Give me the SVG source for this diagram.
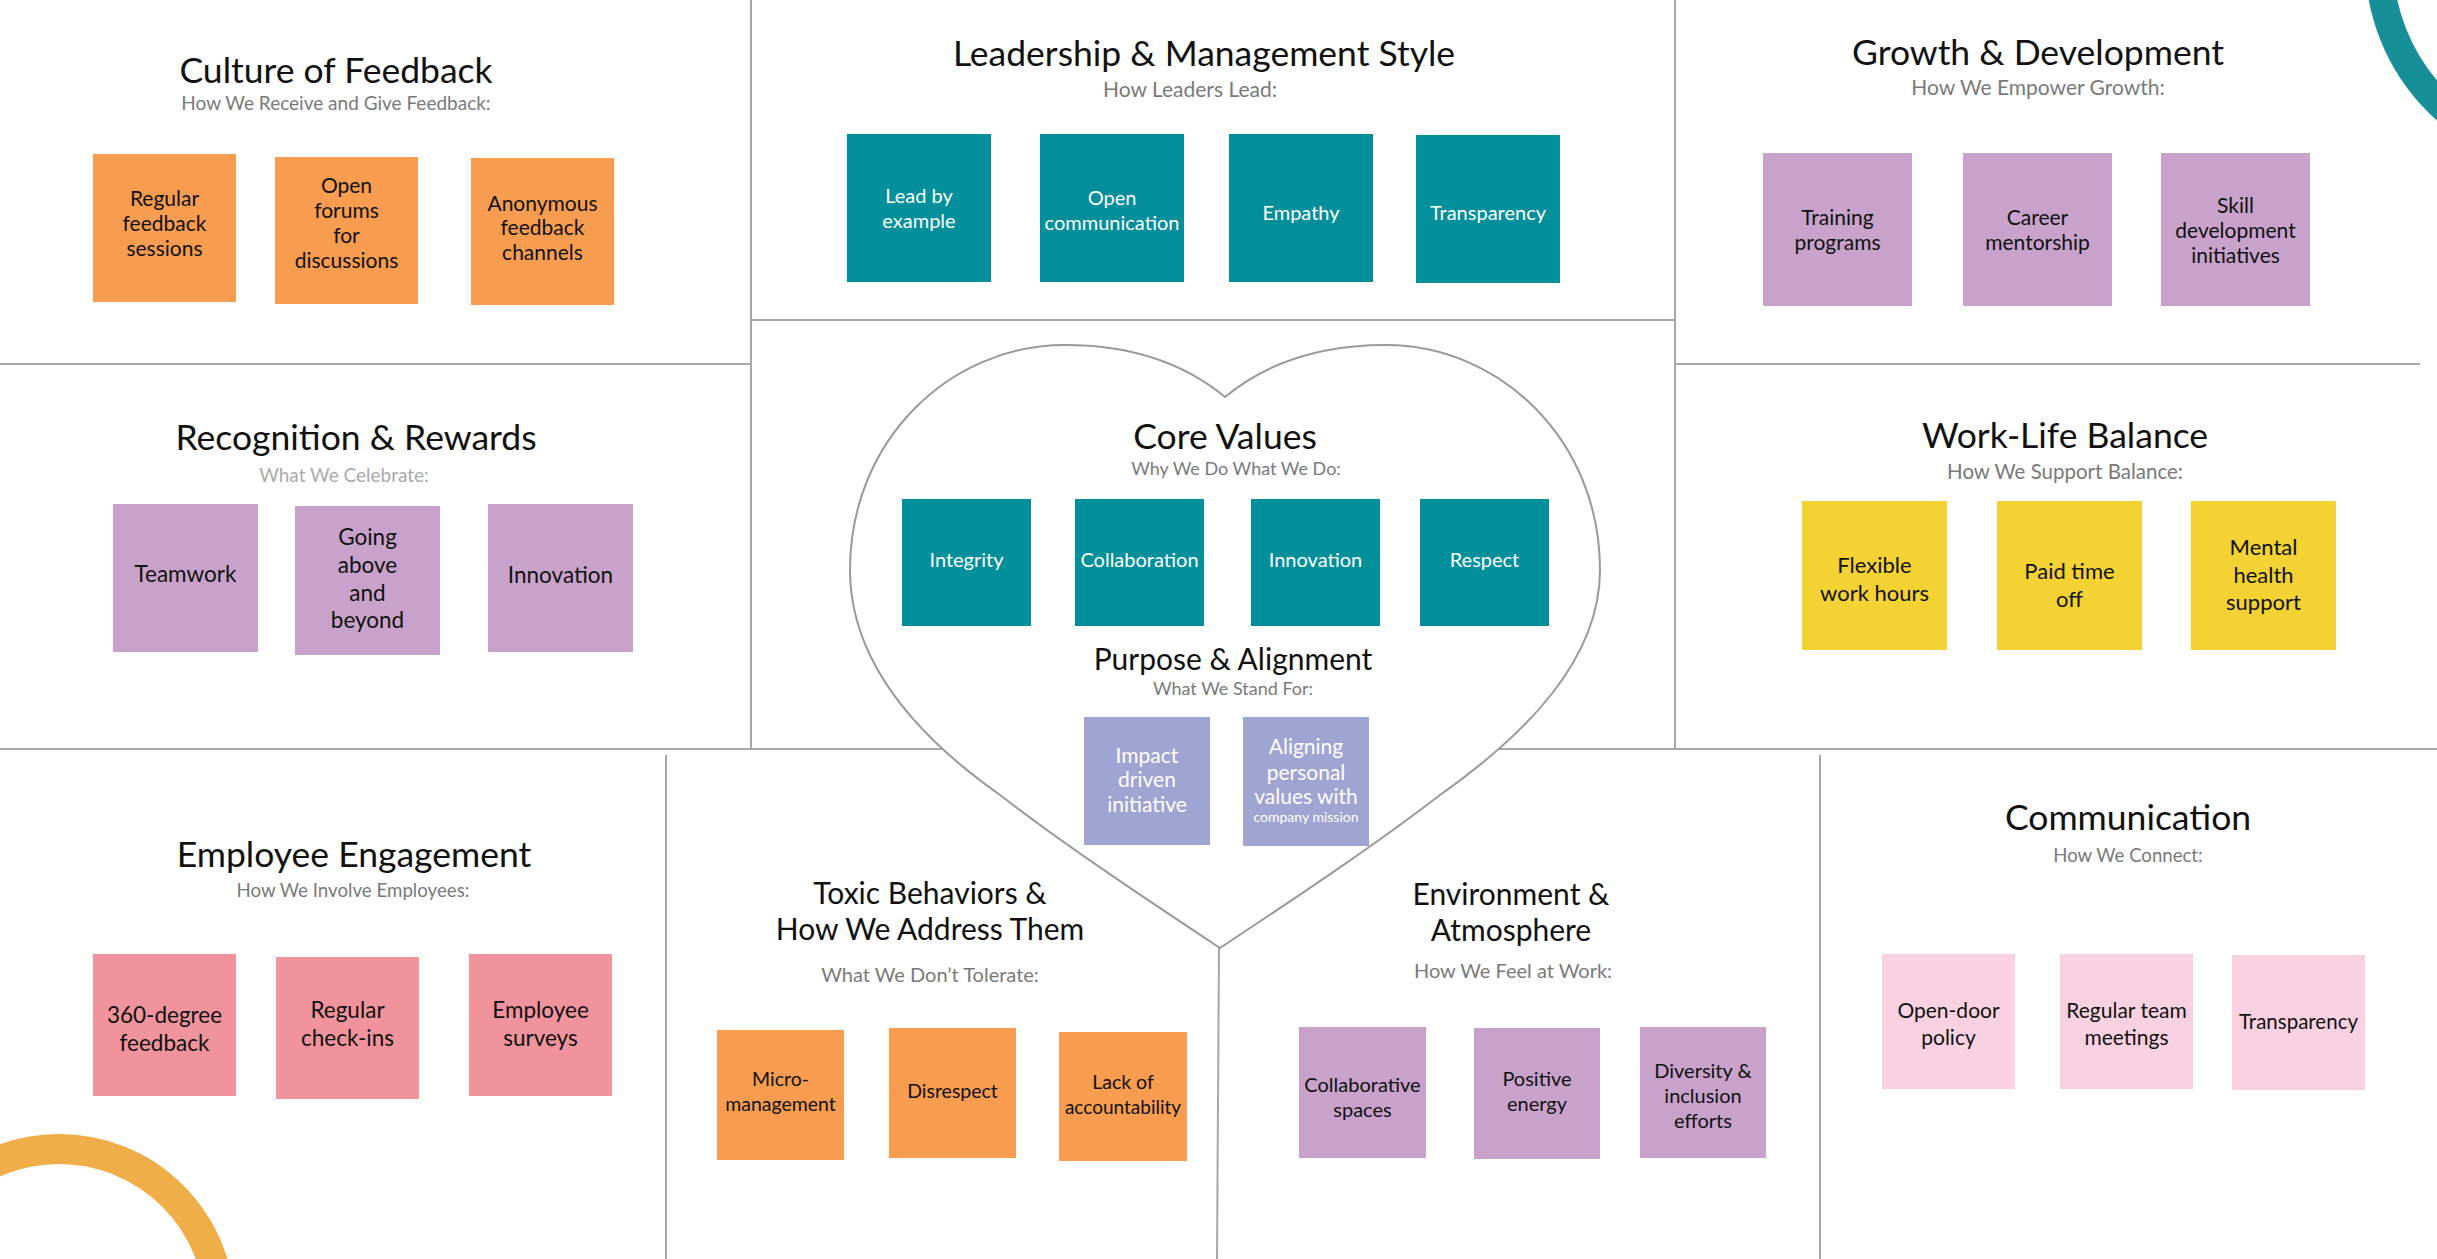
<svg xmlns="http://www.w3.org/2000/svg" width="2437" height="1259" viewBox="0 0 2437 1259">
<style>
  text { font-family: Lato, "Open Sans", "Liberation Sans", sans-serif; text-anchor: middle; }
  .t1 { font-size: 35.5px; fill: #111; }
  .t2 { font-size: 30px; fill: #111; }
  .sub { font-size: 18px; fill: #7a7a7a; }
  .subl { font-size: 19px; fill: #ababab; }
  .bt { font-size: 21px; fill: #111; }
  .bw { font-size: 20px; fill: #fff; }
  .bs { font-size: 14px; fill: #fff; }
  .orange { fill: #F89C4F; }
  .teal { fill: #008F9B; }
  .purple { fill: #C8A2CB; }
  .yellow { fill: #F4D233; }
  .pink { fill: #F0939C; }
  .lpink { fill: #FAD1E1; }
  .lav { fill: #A0A4D3; }
  .ln { stroke: #a8a8a8; stroke-width: 2; fill: none; }
</style>
<rect width="2437" height="1259" fill="#fff"/>

<g id="decor">
  <circle cx="2580" cy="-40" r="201" fill="none" stroke="#178F99" stroke-width="28"/>
  <circle cx="59" cy="1310" r="161" fill="none" stroke="#EFAE48" stroke-width="30"/>
</g>

<g id="connectors">
  <line class="ln" x1="751" y1="0" x2="751" y2="749"/>
  <line class="ln" x1="1675" y1="0" x2="1675" y2="749"/>
  <line class="ln" x1="0" y1="364" x2="751" y2="364"/>
  <line class="ln" x1="751" y1="320" x2="1675" y2="320"/>
  <line class="ln" x1="1675" y1="364" x2="2420" y2="364"/>
  <line class="ln" x1="0" y1="749" x2="2437" y2="749"/>
  <line class="ln" x1="666" y1="755" x2="666" y2="1259"/>
  <line class="ln" x1="1219" y1="948" x2="1217" y2="1259"/>
  <line class="ln" x1="1820" y1="755" x2="1820" y2="1259"/>
  <path id="heart" d="M1225,397 C1190,368 1140,345 1065,345 C950,345 850,440 850,570 C850,660 915,735 1000,795 C1065,845 1140,895 1220,948 C1300,895 1375,845 1440,795 C1525,735 1600,660 1600,570 C1600,440 1500,345 1386,345 C1310,345 1260,368 1225,397 Z" fill="#fff" stroke="#9a9a9a" stroke-width="2"/>
</g>

<g id="culture-of-feedback">
  <text class="t1" x="336" y="83">Culture of Feedback</text>
  <text class="sub" style="font-size:19px" x="336" y="110">How We Receive and Give Feedback:</text>
  <rect class="orange" x="93" y="154" width="143" height="148"/>
  <rect class="orange" x="275" y="157" width="143" height="147"/>
  <rect class="orange" x="471" y="158" width="143" height="147"/>
  <text class="bt" x="164.5" y="206">Regular</text>
  <text class="bt" x="164.5" y="231">feedback</text>
  <text class="bt" x="164.5" y="256">sessions</text>
  <text class="bt" x="346.5" y="193">Open</text>
  <text class="bt" x="346.5" y="218">forums</text>
  <text class="bt" x="346.5" y="243">for</text>
  <text class="bt" x="346.5" y="268">discussions</text>
  <text class="bt" x="542.5" y="211">Anonymous</text>
  <text class="bt" x="542.5" y="235">feedback</text>
  <text class="bt" x="542.5" y="260">channels</text>
</g>

<g id="leadership">
  <text class="t1" x="1204" y="66">Leadership &amp; Management Style</text>
  <text class="sub" style="font-size:21px" x="1190" y="97">How Leaders Lead:</text>
  <rect class="teal" x="847" y="134" width="144" height="148"/>
  <rect class="teal" x="1040" y="134" width="144" height="148"/>
  <rect class="teal" x="1229" y="134" width="144" height="148"/>
  <rect class="teal" x="1416" y="135" width="144" height="148"/>
  <text class="bw" x="919" y="203">Lead by</text>
  <text class="bw" x="919" y="228">example</text>
  <text class="bw" x="1112" y="205">Open</text>
  <text class="bw" x="1112" y="230">communication</text>
  <text class="bw" x="1301" y="220">Empathy</text>
  <text class="bw" x="1488" y="220">Transparency</text>
</g>

<g id="growth">
  <text class="t1" x="2038" y="65">Growth &amp; Development</text>
  <text class="sub" style="font-size:21px" x="2038" y="95">How We Empower Growth:</text>
  <rect class="purple" x="1763" y="153" width="149" height="153"/>
  <rect class="purple" x="1963" y="153" width="149" height="153"/>
  <rect class="purple" x="2161" y="153" width="149" height="153"/>
  <text class="bt" x="1837.5" y="225">Training</text>
  <text class="bt" x="1837.5" y="250">programs</text>
  <text class="bt" x="2037.5" y="225">Career</text>
  <text class="bt" x="2037.5" y="250">mentorship</text>
  <text class="bt" x="2235.5" y="213">Skill</text>
  <text class="bt" x="2235.5" y="238">development</text>
  <text class="bt" x="2235.5" y="263">initiatives</text>
</g>

<g id="recognition">
  <text class="t1" x="356" y="450">Recognition &amp; Rewards</text>
  <text class="subl" x="344" y="482">What We Celebrate:</text>
  <rect class="purple" x="113" y="504" width="145" height="148"/>
  <rect class="purple" x="295" y="506" width="145" height="149"/>
  <rect class="purple" x="488" y="504" width="145" height="148"/>
  <text class="bt" style="font-size:22.5px" x="185.5" y="582">Teamwork</text>
  <text class="bt" style="font-size:22.5px" x="367.5" y="545">Going</text>
  <text class="bt" style="font-size:22.5px" x="367.5" y="573">above</text>
  <text class="bt" style="font-size:22.5px" x="367.5" y="601">and</text>
  <text class="bt" style="font-size:22.5px" x="367.5" y="628">beyond</text>
  <text class="bt" style="font-size:22.5px" x="560.5" y="583">Innovation</text>
</g>

<g id="work-life-balance">
  <text class="t1" x="2065" y="448">Work-Life Balance</text>
  <text class="sub" style="font-size:20.5px" x="2065" y="479">How We Support Balance:</text>
  <rect class="yellow" x="1802" y="501" width="145" height="149"/>
  <rect class="yellow" x="1997" y="501" width="145" height="149"/>
  <rect class="yellow" x="2191" y="501" width="145" height="149"/>
  <text class="bt" style="font-size:22px" x="1874.5" y="573">Flexible</text>
  <text class="bt" style="font-size:22px" x="1874.5" y="601">work hours</text>
  <text class="bt" style="font-size:22px" x="2069.5" y="579">Paid time</text>
  <text class="bt" style="font-size:22px" x="2069.5" y="607">off</text>
  <text class="bt" style="font-size:22px" x="2263.5" y="555">Mental</text>
  <text class="bt" style="font-size:22px" x="2263.5" y="583">health</text>
  <text class="bt" style="font-size:22px" x="2263.5" y="610">support</text>
</g>

<g id="core-values">
  <text class="t1" x="1225" y="449">Core Values</text>
  <text class="sub" x="1236" y="475">Why We Do What We Do:</text>
  <rect class="teal" x="902" y="499" width="129" height="127"/>
  <rect class="teal" x="1075" y="499" width="129" height="127"/>
  <rect class="teal" x="1251" y="499" width="129" height="127"/>
  <rect class="teal" x="1420" y="499" width="129" height="127"/>
  <text class="bw" x="966.5" y="567">Integrity</text>
  <text class="bw" x="1139.5" y="567">Collaboration</text>
  <text class="bw" x="1315.5" y="567">Innovation</text>
  <text class="bw" x="1484.5" y="567">Respect</text>
</g>

<g id="purpose-alignment">
  <text class="t2" x="1233" y="670">Purpose &amp; Alignment</text>
  <text class="sub" x="1233" y="695">What We Stand For:</text>
  <rect class="lav" x="1084" y="717" width="126" height="128"/>
  <rect class="lav" x="1243" y="717" width="126" height="129"/>
  <text class="bw" style="font-size:21px" x="1147" y="763">Impact</text>
  <text class="bw" style="font-size:21px" x="1147" y="787">driven</text>
  <text class="bw" style="font-size:21px" x="1147" y="812">initiative</text>
  <text class="bw" style="font-size:21px" x="1306" y="754">Aligning</text>
  <text class="bw" style="font-size:21px" x="1306" y="780">personal</text>
  <text class="bw" style="font-size:21px" x="1306" y="804">values with</text>
  <text class="bs" x="1306" y="822">company mission</text>
</g>

<g id="employee-engagement">
  <text class="t1" x="354" y="867">Employee Engagement</text>
  <text class="sub" style="font-size:18.7px" x="353" y="897">How We Involve Employees:</text>
  <rect class="pink" x="93" y="954" width="143" height="142"/>
  <rect class="pink" x="276" y="957" width="143" height="142"/>
  <rect class="pink" x="469" y="954" width="143" height="142"/>
  <text class="bt" style="font-size:22.5px" x="164.5" y="1023">360-degree</text>
  <text class="bt" style="font-size:22.5px" x="164.5" y="1051">feedback</text>
  <text class="bt" style="font-size:22.5px" x="347.5" y="1018">Regular</text>
  <text class="bt" style="font-size:22.5px" x="347.5" y="1046">check-ins</text>
  <text class="bt" style="font-size:22.5px" x="540.5" y="1018">Employee</text>
  <text class="bt" style="font-size:22.5px" x="540.5" y="1046">surveys</text>
</g>

<g id="toxic-behaviors">
  <text class="t2" x="930" y="904">Toxic Behaviors &amp;</text>
  <text class="t2" x="930" y="940">How We Address Them</text>
  <text class="sub" style="font-size:20px" x="930" y="982">What We Don’t Tolerate:</text>
  <rect class="orange" x="717" y="1030" width="127" height="130"/>
  <rect class="orange" x="889" y="1028" width="127" height="130"/>
  <rect class="orange" x="1059" y="1032" width="128" height="129"/>
  <text class="bt" style="font-size:19.5px" x="780.5" y="1086">Micro-</text>
  <text class="bt" style="font-size:19.5px" x="780.5" y="1111">management</text>
  <text class="bt" style="font-size:19.5px" x="952.5" y="1098">Disrespect</text>
  <text class="bt" style="font-size:19.5px" x="1123" y="1089">Lack of</text>
  <text class="bt" style="font-size:19px" x="1123" y="1114">accountability</text>
</g>

<g id="environment">
  <text class="t2" x="1511" y="905">Environment &amp;</text>
  <text class="t2" x="1511" y="941">Atmosphere</text>
  <text class="sub" style="font-size:20px" x="1513" y="978">How We Feel at Work:</text>
  <rect class="purple" x="1299" y="1027" width="127" height="131"/>
  <rect class="purple" x="1474" y="1028" width="126" height="131"/>
  <rect class="purple" x="1640" y="1027" width="126" height="131"/>
  <text class="bt" style="font-size:20px" x="1362.5" y="1092">Collaborative</text>
  <text class="bt" style="font-size:20px" x="1362.5" y="1117">spaces</text>
  <text class="bt" style="font-size:20px" x="1537" y="1086">Positive</text>
  <text class="bt" style="font-size:20px" x="1537" y="1111">energy</text>
  <text class="bt" style="font-size:20px" x="1703" y="1078">Diversity &amp;</text>
  <text class="bt" style="font-size:20px" x="1703" y="1103">inclusion</text>
  <text class="bt" style="font-size:20px" x="1703" y="1128">efforts</text>
</g>

<g id="communication">
  <text class="t1" x="2128" y="830">Communication</text>
  <text class="sub" style="font-size:18.6px" x="2128" y="862">How We Connect:</text>
  <rect class="lpink" x="1882" y="954" width="133" height="135"/>
  <rect class="lpink" x="2060" y="954" width="133" height="135"/>
  <rect class="lpink" x="2232" y="955" width="133" height="135"/>
  <text class="bt" x="1948.5" y="1018">Open-door</text>
  <text class="bt" x="1948.5" y="1045">policy</text>
  <text class="bt" x="2126.5" y="1018">Regular team</text>
  <text class="bt" x="2126.5" y="1045">meetings</text>
  <text class="bt" style="font-size:20.5px" x="2298.5" y="1029">Transparency</text>
</g>
</svg>
